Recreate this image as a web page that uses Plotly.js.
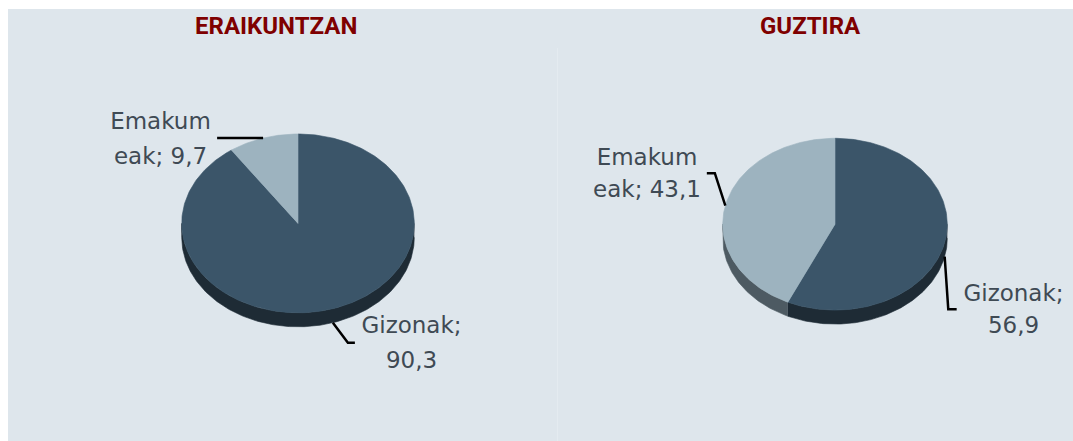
<!DOCTYPE html>
<html>
<head>
<meta charset="utf-8">
<script src="https://cdn.plot.ly/plotly-3.0.1.min.js"></script>
<style>
  html, body { margin: 0; padding: 0; background: #ffffff; }
  #chart { width: 1073px; height: 441px; }
</style>
</head>
<body>
<div id="chart"></div>
<script>
// ---- data ----
const categories = ['Gizonak', 'Emakumeak'];
const panelTitles = ['ERAIKUNTZAN', 'GUZTIRA'];
const eraikuntzanValues = [90.3, 9.7];
const guztiraValues = [56.9, 43.1];
const labelBreaks = [8, 6]; // where each category label wraps

// ---- style / geometry ----
const topColors = ['#3b5569', '#9db3bf'];
const sideColors = ['#1e2b35', '#4d5a62'];
const labelFont = { family: 'DejaVu Sans, Verdana, sans-serif', size: 23, color: '#3f4a54' };
const titleFont = { family: 'Roboto, Liberation Sans, sans-serif', size: 24, color: '#7f0000' };

const pies = [
  { title: panelTitles[0], values: eraikuntzanValues, cx: 298, cy: 223.4, rx: 116.3, ry: 89.4, depth: 14, titleX: 276, lineGap: 35,
    leaders: [ { dx: 15, dy: 20, tail: 7 }, { dx: 0, dy: 0, tail: -46 } ] },
  { title: panelTitles[1], values: guztiraValues, cx: 835, cy: 224.2, rx: 112.3, ry: 85.9, depth: 14, titleX: 810, lineGap: 31.5,
    leaders: [ { dx: 3.6, dy: 52.5, tail: 8.4 }, { dx: -10.5, dy: -32.5, tail: -8 } ] }
];

function fmt(v) { return v.toFixed(1).replace('.', ','); }

const measureCtx = document.createElement('canvas').getContext('2d');
measureCtx.font = labelFont.size + 'px "DejaVu Sans"';
function textWidth(s) { return measureCtx.measureText(s).width; }

const traces = [];
const annotations = [];

function pt(p, phiDeg, down) {
  const a = phiDeg * Math.PI / 180;
  return [p.cx + p.rx * Math.sin(a), p.cy - p.ry * Math.cos(a) + (down || 0)];
}

pies.forEach(p => {
  const total = p.values.reduce((s, v) => s + v, 0);
  let acc = 0;
  const slices = p.values.map(v => {
    const a0 = acc / total * 360;
    acc += v;
    const a1 = acc / total * 360;
    return [a0, a1];
  });

  // sides (front half: 90..270 degrees clockwise from top)
  slices.forEach((s, i) => {
    const lo = Math.max(s[0], 90), hi = Math.min(s[1], 270);
    if (hi <= lo) return;
    const xs = [], ys = [];
    const n = Math.max(2, Math.ceil(hi - lo));
    for (let k = 0; k <= n; k++) { const q = pt(p, lo + (hi - lo) * k / n, 0); xs.push(q[0]); ys.push(q[1]); }
    for (let k = n; k >= 0; k--) { const q = pt(p, lo + (hi - lo) * k / n, p.depth); xs.push(q[0]); ys.push(q[1]); }
    traces.push({ type: 'scatter', mode: 'lines', x: xs, y: ys, fill: 'toself',
      fillcolor: sideColors[i], line: { color: sideColors[i], width: 0.6 }, hoverinfo: 'skip', showlegend: false });
  });

  // top faces
  slices.forEach((s, i) => {
    const xs = [p.cx], ys = [p.cy];
    const n = Math.max(2, Math.ceil(s[1] - s[0]));
    for (let k = 0; k <= n; k++) { const q = pt(p, s[0] + (s[1] - s[0]) * k / n, 0); xs.push(q[0]); ys.push(q[1]); }
    xs.push(p.cx); ys.push(p.cy);
    traces.push({ type: 'scatter', mode: 'lines', x: xs, y: ys, fill: 'toself',
      fillcolor: topColors[i], line: { color: topColors[i], width: 0.6 }, hoverinfo: 'skip', showlegend: false });
  });

  // leader lines and labels
  slices.forEach((s, i) => {
    const mid = (s[0] + s[1]) / 2;
    const front = Math.cos(mid * Math.PI / 180) < 0;
    const st = pt(p, mid, front ? p.depth : 0);
    const L = p.leaders[i];
    const el = [st[0] + L.dx, st[1] + L.dy];
    const en = [el[0] + L.tail, el[1]];
    traces.push({ type: 'scatter', mode: 'lines', x: [st[0], el[0], en[0]], y: [st[1], el[1], en[1]],
      line: { color: '#000000', width: 2.5 }, hoverinfo: 'skip', showlegend: false });
    const full = categories[i] + '; ' + fmt(p.values[i]);
    const lines = [full.slice(0, labelBreaks[i]).trim(), full.slice(labelBreaks[i]).trim()];
    const w = Math.ceil(Math.max(...lines.map(textWidth))) + 2;
    const right = L.tail > 0;
    lines.forEach((ln, j) => {
      annotations.push({ xref: 'x', yref: 'y', x: en[0] + (right ? 3 : -3), y: en[1] + (j === 0 ? -1 : 1) * p.lineGap / 2,
        xanchor: right ? 'left' : 'right', yanchor: 'middle', align: 'center', width: w,
        text: ln, showarrow: false, font: labelFont });
    });
  });

  annotations.push({ xref: 'x', yref: 'y', x: p.titleX, y: 26, xanchor: 'center', yanchor: 'middle',
    text: '<b>' + p.title + '</b>', showarrow: false, font: titleFont });
});

const layout = {
  width: 1073, height: 441,
  margin: { l: 0, r: 0, t: 0, b: 0, pad: 0 },
  paper_bgcolor: '#ffffff', plot_bgcolor: 'rgba(0,0,0,0)',
  xaxis: { range: [0, 1073], visible: false, fixedrange: true },
  yaxis: { range: [441, 0], visible: false, fixedrange: true },
  showlegend: false,
  shapes: [
    { type: 'rect', xref: 'x', yref: 'y', x0: 8, x1: 1073, y0: 9, y1: 441, fillcolor: '#dee6ec', line: { width: 0 }, layer: 'below' },
    { type: 'line', xref: 'x', yref: 'y', x0: 557.5, x1: 557.5, y0: 48, y1: 441, line: { color: '#e4ebf0', width: 1 }, layer: 'below' }
  ],
  annotations: annotations
};

Plotly.newPlot('chart', traces, layout, { displayModeBar: false, staticPlot: true });
</script>
</body>
</html>
